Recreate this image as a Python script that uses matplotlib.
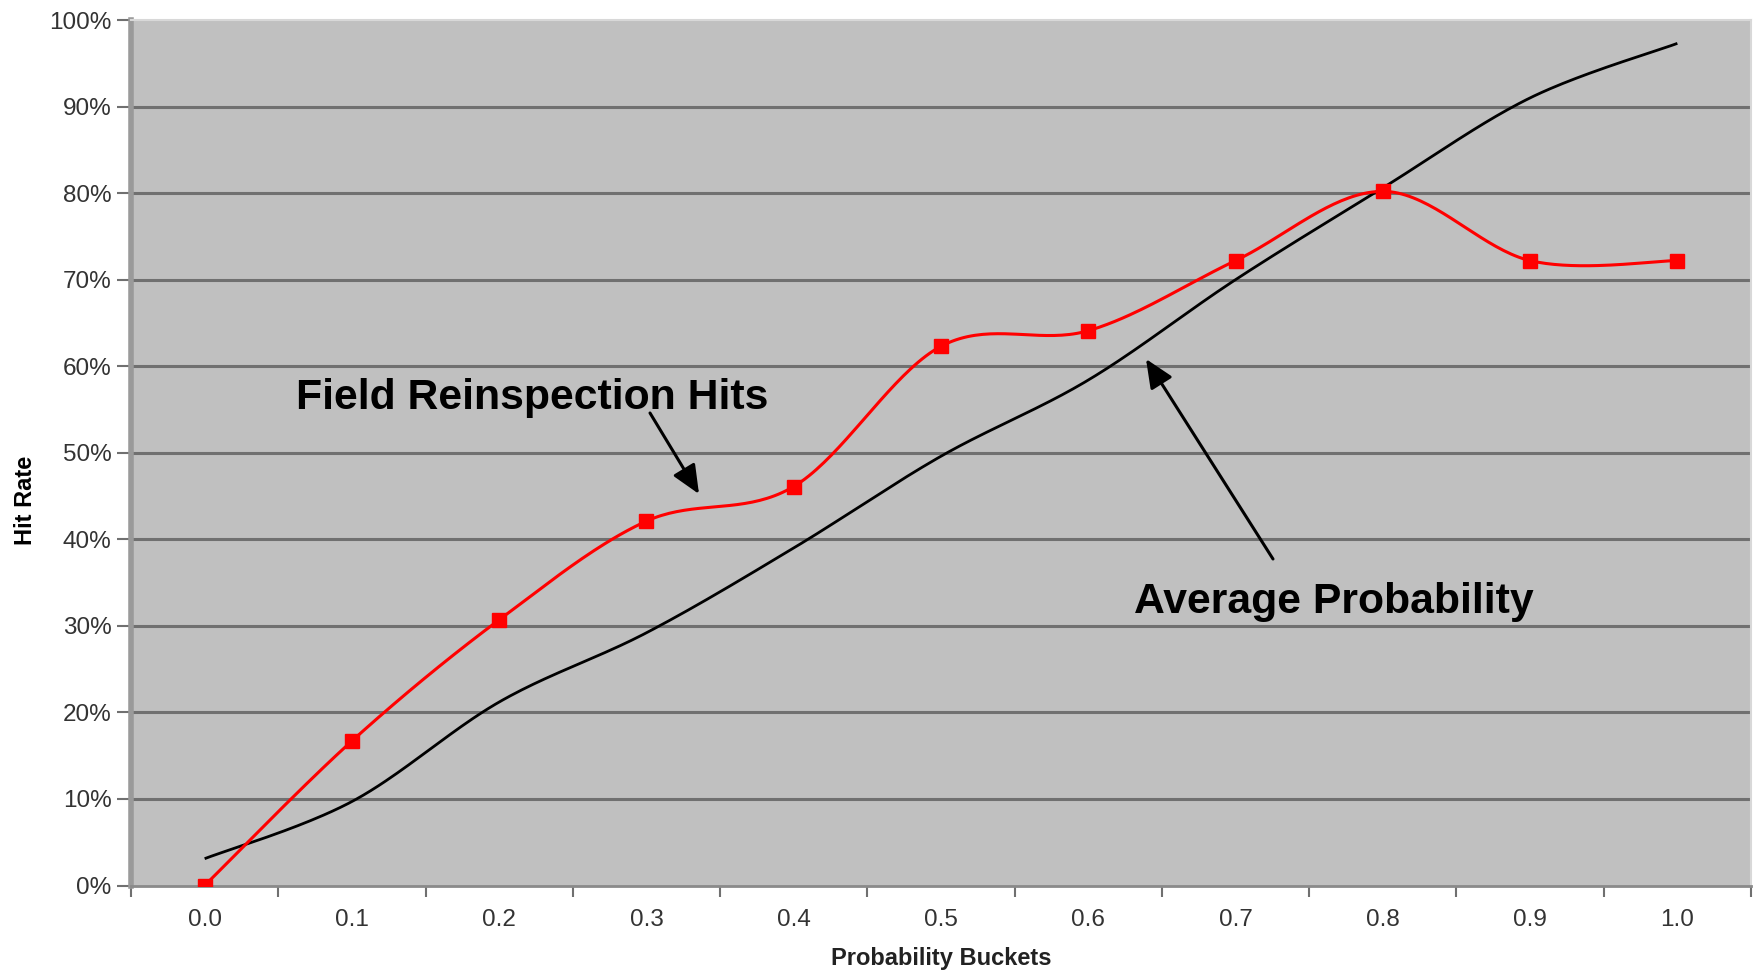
import numpy as np
import matplotlib
matplotlib.use("Agg")
import matplotlib.pyplot as plt

plt.rcParams['font.family'] = ['Liberation Sans', 'DejaVu Sans']

buckets = [0.0, 0.1, 0.2, 0.3, 0.4, 0.5, 0.6, 0.7, 0.8, 0.9, 1.0]
tick_labels = ["0.0", "0.1", "0.2", "0.3", "0.4", "0.5", "0.6", "0.7", "0.8", "0.9", "1.0"]
field_hits = [0.0, 16.7, 30.7, 42.1, 46.1, 62.3, 64.1, 72.2, 80.2, 72.2, 72.2]
avg_prob = [3.1, 9.7, 21.2, 29.2, 39.0, 49.6, 58.4, 70.0, 80.6, 91.0, 97.3]
y_ticks = [0, 10, 20, 30, 40, 50, 60, 70, 80, 90, 100]


def smooth(x, y, n=40):
    """Excel-style smoothed line (Catmull-Rom Bezier segments)."""
    x = np.asarray(x, float)
    y = np.asarray(y, float)
    P = np.column_stack([x, y])
    out = []
    for i in range(len(P) - 1):
        p0 = P[i - 1] if i > 0 else P[i]
        p1 = P[i]
        p2 = P[i + 1]
        p3 = P[i + 2] if i + 2 < len(P) else P[i + 1]
        c1 = p1 + (p2 - p0) / 6.0
        c2 = p2 - (p3 - p1) / 6.0
        t = np.linspace(0, 1, n)[:, None]
        seg = ((1 - t) ** 3) * p1 + 3 * ((1 - t) ** 2) * t * c1 + 3 * (1 - t) * t ** 2 * c2 + t ** 3 * p2
        if i > 0:
            seg = seg[1:]
        out.append(seg)
    out = np.vstack(out)
    return out[:, 0], out[:, 1]


W, H = 1753, 973
fig = plt.figure(figsize=(W / 100, H / 100), dpi=100)
ax = fig.add_axes([131 / W, 1 - 885.5 / H, (1751 - 131) / W, (885.5 - 20) / H])
ax.set_facecolor("#c0c0c0")

ax.set_xlim(-0.05, 1.05)
ax.set_ylim(0, 100)

for v in y_ticks[1:-1]:
    ax.axhline(v, color="#707070", lw=2.2, zorder=1)

sx, sy = smooth(buckets, avg_prob)
ax.plot(sx, sy, color="black", lw=2, zorder=3, solid_capstyle="butt")

rx, ry = smooth(buckets, field_hits)
ax.plot(rx, ry, color="#ff0000", lw=2.2, zorder=4)
ax.plot(buckets, field_hits, ls="none", marker="s", ms=10, color="#ff0000", zorder=5)

ax.set_yticks(y_ticks)
ax.set_yticklabels([f"{v}%" for v in y_ticks])
ax.set_xticks(buckets)
ax.set_xticklabels(tick_labels)
ax.set_xticks([b + 0.05 for b in [-0.1] + buckets], minor=True)
ax.tick_params(axis="x", which="major", length=0, pad=17, labelsize=17.5, labelcolor="#333333")
ax.tick_params(axis="x", which="minor", length=8, width=1.5, color="#707070", direction="out")
ax.tick_params(axis="y", which="major", length=10, width=1.5, color="#707070", pad=4,
               labelsize=17.5, labelcolor="#333333")

for side in ["top", "right"]:
    ax.spines[side].set_color("#d8d8d8")
    ax.spines[side].set_linewidth(1.5)
ax.spines["left"].set_color("#9a9a9a")
ax.spines["left"].set_linewidth(4)
ax.spines["bottom"].set_color("#8a8a8a")
ax.spines["bottom"].set_linewidth(2)

fig.text(26 / W, 1 - 500 / H, "Hit Rate", rotation=90, ha="center", va="center",
         fontsize=17, fontweight="bold", color="black")
fig.text(941 / W, 1 - 958 / H, "Probability Buckets", ha="center", va="center",
         fontsize=17, fontweight="bold", color="#222222")

fig.text(296 / W, 1 - 398 / H, "Field Reinspection Hits", ha="left", va="center",
         fontsize=30.8, fontweight="bold", color="black")
fig.text(1134 / W, 1 - 602 / H, "Average Probability", ha="left", va="center",
         fontsize=30.8, fontweight="bold", color="black")

arrow_kw = dict(arrowstyle="-|>,head_length=1.25,head_width=0.55", color="black", lw=2.2)
fig.add_artist(matplotlib.patches.FancyArrowPatch(
    (650 / W, 1 - 413 / H), (699 / W, 1 - 494 / H), transform=fig.transFigure,
    mutation_scale=14, shrinkA=0, shrinkB=0, **arrow_kw))
fig.add_artist(matplotlib.patches.FancyArrowPatch(
    (1273 / W, 1 - 559 / H), (1146 / W, 1 - 359 / H), transform=fig.transFigure,
    mutation_scale=14, shrinkA=0, shrinkB=0, **arrow_kw))

fig.savefig("out.png", dpi=100, facecolor="white")
